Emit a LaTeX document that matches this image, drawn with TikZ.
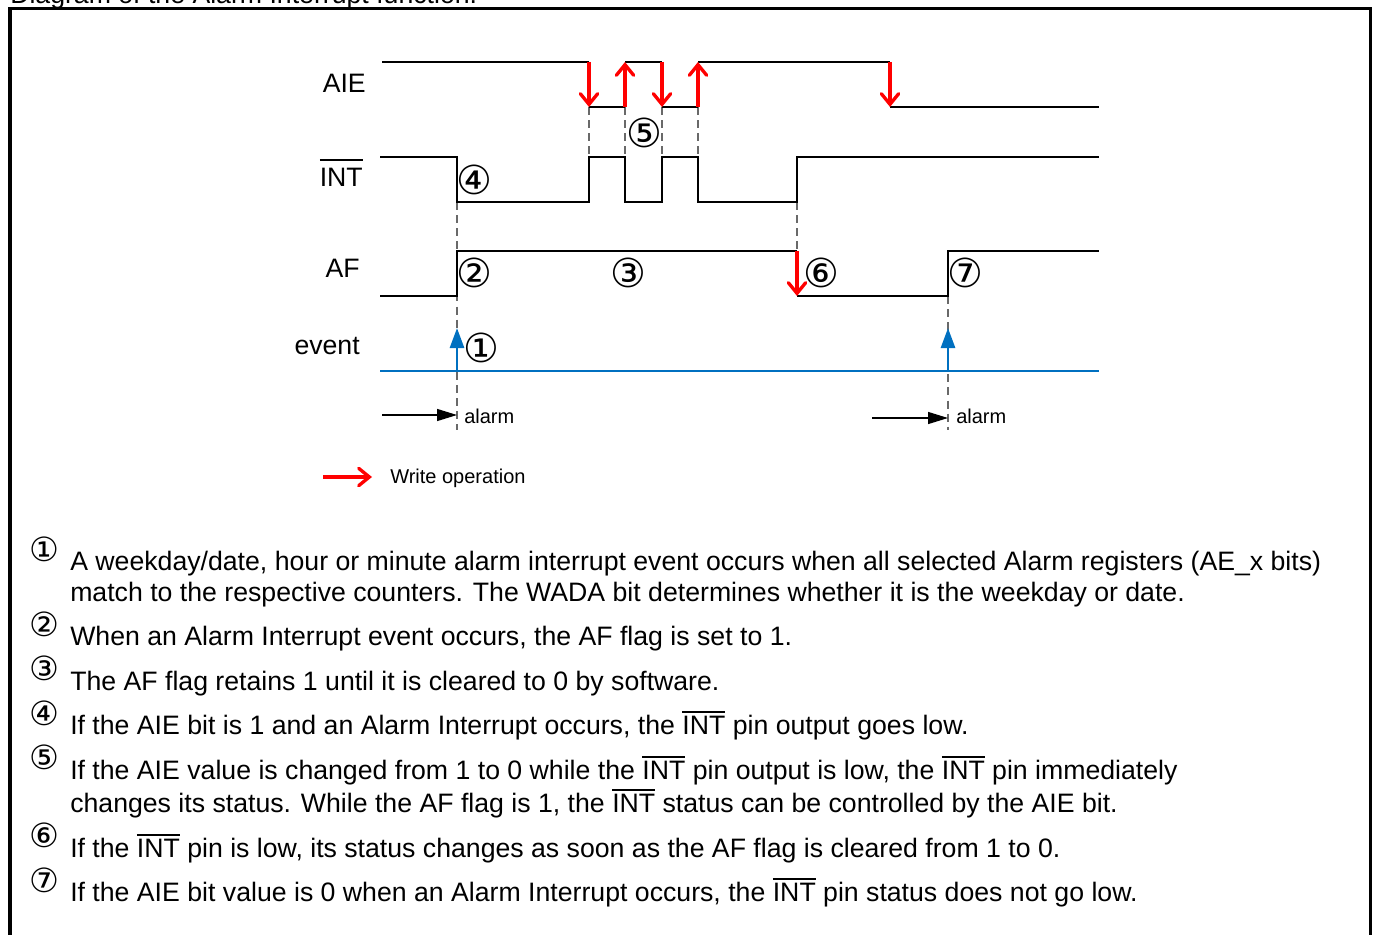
\documentclass[tikz,border=0pt]{standalone}
\usepackage{fontspec}
\setmainfont{Liberation Sans}
\newfontfamily\circfont{DejaVu Sans}
\usetikzlibrary{arrows.meta}
\definecolor{evblue}{RGB}{0,112,192}
\definecolor{dashgray}{RGB}{105,105,105}
\newcommand\ovltext[2][0.12em]{\setbox0\hbox{#2}\rlap{\rule[\dimexpr\ht0+#1\relax]{\wd0}{0.07em}}\box0\relax}
\begin{document}
\begin{tikzpicture}[x=0.75pt,y=-0.75pt,
  sig/.style={line width=2.1pt, line join=miter},
  wr/.style={red, line width=2.5pt, -{Straight Barb[length=8pt,width=13pt,line cap=round]}},
  evline/.style={evblue, line width=2.1pt},
  evarrow/.style={evblue, line width=2.1pt, -{Triangle[length=15pt,width=10.5pt]}},
  alarmarrow/.style={line width=1pt, -{Triangle[length=15pt,width=9pt]}},
  guide/.style={dashgray, line width=1.1pt, dash pattern=on 6pt off 3.8pt},
  siglabel/.style={font=\fontsize{20}{24}\selectfont, inner sep=0pt, anchor=base east},
  small/.style={font=\fontsize{15}{18}\selectfont, inner sep=0pt, anchor=base west},
  circ/.style={font=\circfont\fontsize{30}{34}\selectfont, inner sep=0pt},
  bcirc/.style={font=\circfont\fontsize{25}{28}\selectfont, inner sep=0pt},
  body/.style={font=\fontsize{20}{24}\selectfont, inner sep=0pt, anchor=base west}]
\useasboundingbox (0,0) rectangle (1376,934);
% title (cut off) and frame
\node[body] (title) at (10,3.5) {Diagram of the Alarm Interrupt function.};
\draw[line width=2.7pt] (10,945) -- (10,8.5) -- (1370.5,8.5) -- (1370.5,945);
% guides
\draw[guide] (589,107) -- (589,157);
\draw[guide] (625,107) -- (625,157);
\draw[guide] (662,107) -- (662,157);
\draw[guide] (698,107) -- (698,157);
\draw[guide] (457,202) -- (457,430);
\draw[guide] (797,202) -- (797,251);
\draw[guide] (948,296) -- (948,430);
% labels
\node[siglabel] (laie) at (366,92.5) {AIE};
\node[siglabel] (lint) at (363,187) {\ovltext[0.3em]{INT}};
\node[siglabel] (laf) at (360,277.5) {AF};
\node[siglabel] (lev) at (360,354) {event};
% AIE
\draw[sig] (382,62) -- (589,62);
\draw[sig] (589,107) -- (625,107);
\draw[sig] (625,62) -- (662,62);
\draw[sig] (662,107) -- (698,107);
\draw[sig] (698,62) -- (890,62);
\draw[sig] (890,107) -- (1099,107);
\draw[wr] (589,62) -- (589,107);
\draw[wr] (625,107) -- (625,62);
\draw[wr] (662,62) -- (662,107);
\draw[wr] (698,107) -- (698,62);
\draw[wr] (890,62) -- (890,107);
% INT
\draw[sig] (380,157) -| (457,202) -| (589,157) -| (625,202) -| (662,157) -| (698,202) -| (797,157) -- (1099,157);
% AF
\draw[sig] (380,296) -| (457,251) -- (797,251);
\draw[sig] (797,296) -| (948,251) -- (1099,251);
\draw[wr] (797,251) -- (797,296);
% event
\draw[evline] (380,371) -- (1099,371);
\draw[evarrow] (457,371) -- (457,328);
\draw[evarrow] (948,371) -- (948,328);
% alarm
\coordinate (a1s) at (382,415);
\coordinate (a1e) at (457,415);
\coordinate (a2s) at (872,418);
\coordinate (a2e) at (948,418);
\draw[alarmarrow] (a1s) -- (a1e);
\draw[alarmarrow] (a2s) -- (a2e);
\node[small] (al1) at (464,423) {alarm};
\node[small] (al2) at (956,423) {alarm};
% circled numbers in diagram
\node[circ] (c4) at (474.3,180) {④};
\node[circ] (c5) at (644,133.3) {⑤};
\node[circ] (c2) at (474.3,273.3) {②};
\node[circ] (c3) at (628.3,273.3) {③};
\node[circ] (c1) at (481.7,348.3) {①};
\node[circ] (c6) at (821,272.7) {⑥};
\node[circ] (c7) at (965.3,273.3) {⑦};
% legend
\coordinate (lgs) at (323,477);
\coordinate (lge) at (372,477);
\draw[wr] (lgs) -- (lge);
\node[small] (lgt) at (390,483) {Write operation};
% body text
\node[bcirc] (b1) at (44,549) {①};
\node[body] (t1a) at (70,570.5) {A weekday/date, hour or minute alarm interrupt event occurs when all selected Alarm registers (AE\_x bits)};
\node[body] (t1b) at (70,601.5) {match to the respective counters. The WADA bit determines whether it is the weekday or date.};
\node[bcirc] (b2) at (44,624) {②};
\node[body] (t2) at (70,645.5) {When an Alarm Interrupt event occurs, the AF flag is set to 1.};
\node[bcirc] (b3) at (44,668) {③};
\node[body] (t3) at (70,690.5) {The AF flag retains 1 until it is cleared to 0 by software.};
\node[bcirc] (b4) at (44,713) {④};
\node[body] (t4) at (70,734.5) {If the AIE bit is 1 and an Alarm Interrupt occurs, the \ovltext{INT} pin output goes low.};
\node[bcirc] (b5) at (44,757.5) {⑤};
\node[body] (t5a) at (70,779.5) {If the AIE value is changed from 1 to 0 while the \ovltext{INT} pin output is low, the \ovltext{INT} pin immediately};
\node[body] (t5b) at (70,812.5) {changes its status. While the AF flag is 1, the \ovltext{INT} status can be controlled by the AIE bit.};
\node[bcirc] (b6) at (44,835) {⑥};
\node[body] (t6) at (70,857.5) {If the \ovltext{INT} pin is low, its status changes as soon as the AF flag is cleared from 1 to 0.};
\node[bcirc] (b7) at (44,880) {⑦};
\node[body] (t7) at (70,901.5) {If the AIE bit value is 0 when an Alarm Interrupt occurs, the \ovltext{INT} pin status does not go low.};
\end{tikzpicture}
\end{document}
